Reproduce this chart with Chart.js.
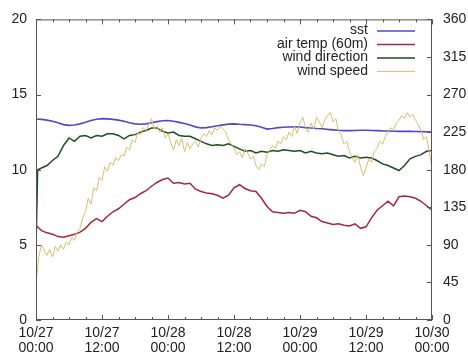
<!DOCTYPE html>
<html>
<head>
<meta charset="utf-8">
<script src="https://cdn.jsdelivr.net/npm/chart.js@4/dist/chart.umd.min.js"></script>
<style>
    body { margin: 0; background: #fff; }
    #wrap { width: 468px; height: 359px; position: relative; }
</style>
</head>
<body>
<div id="wrap"><canvas id="tsChart"></canvas></div>
<script>
// hours since 10/27 00:00
const hours = Array.from({ length: 73 }, (_, i) => i);
const halfHours = Array.from({ length: 145 }, (_, i) => i / 2);
const dirHours = [0, 0.3].concat(hours.slice(1));

const dayLabels = ['10/27', '10/27', '10/28', '10/28', '10/29', '10/29', '10/30'];
const timeLabels = ['00:00', '12:00', '00:00', '12:00', '00:00', '12:00', '00:00'];
const legendNames = ['sst', 'air temp (60m)', 'wind direction', 'wind speed'];

// sea surface temperature, hourly
const sst = [
    13.37, 13.35, 13.3, 13.22, 13.12, 13.0, 12.95, 12.97, 13.05, 13.15, 13.28, 13.36,
    13.4, 13.38, 13.35, 13.3, 13.22, 13.12, 13.05, 13.02, 13.05, 13.12, 13.2, 13.26,
    13.27, 13.22, 13.15, 13.08, 12.98, 12.85, 12.78, 12.8, 12.86, 12.92, 12.98, 13.03,
    13.05, 13.02, 13.0, 12.97, 12.92, 12.82, 12.7, 12.74, 12.8, 12.82, 12.84, 12.85,
    12.84, 12.8, 12.77, 12.74, 12.72, 12.68, 12.65, 12.62, 12.6, 12.6, 12.61, 12.62,
    12.62, 12.61, 12.6, 12.58, 12.57, 12.56, 12.55, 12.55, 12.55, 12.54, 12.53, 12.52,
    12.5
];

// air temperature at 60 m, hourly
const airTemp = [
    6.3, 5.95, 5.8, 5.7, 5.55, 5.5, 5.6, 5.7, 5.85, 6.1, 6.5, 6.75,
    6.55, 6.9, 7.2, 7.4, 7.7, 8.0, 8.15, 8.4, 8.6, 8.9, 9.15, 9.35,
    9.45, 9.1, 9.15, 9.05, 9.1, 8.7, 8.55, 8.45, 8.4, 8.3, 8.1, 8.3,
    8.8, 9.0, 8.75, 8.6, 8.55, 8.1, 7.55, 7.2, 7.15, 7.1, 7.15, 7.1,
    7.3, 7.2, 6.9, 6.8, 6.55, 6.45, 6.35, 6.4, 6.3, 6.25, 6.4, 6.1,
    6.2, 6.8, 7.3, 7.6, 7.9, 7.6, 8.2, 8.25, 8.2, 8.1, 7.9, 7.6,
    7.3
];

// wind direction in degrees (right axis)
const windDir = [
    83, 180,
    182, 185, 191, 196, 209, 218, 214, 220, 221, 218, 221,
    220, 223, 223, 221, 217, 221, 222, 225, 227, 230, 230, 226,
    224, 225, 221, 220, 220, 217, 214, 211, 209, 210, 209, 211,
    208, 205, 202, 203, 200, 202, 201, 203, 202, 204, 203, 202,
    203, 200, 202, 200, 199, 200, 198, 196, 197, 194, 196, 194,
    195, 194, 191, 187, 185, 182, 179, 185, 193, 196, 198, 202,
    203
];

// wind speed, half-hourly
const windSpeed = [
    2.4, 4.2, 5.0, 4.6, 4.3, 4.7, 4.2, 4.9, 4.6, 5.0, 4.7, 5.2,
    5.0, 5.5, 5.3, 5.9, 6.1, 6.8, 7.2, 8.1, 7.7, 8.8, 8.6, 9.5,
    9.3, 10.2, 9.9, 10.5, 10.3, 10.8, 10.6, 11.0, 10.9, 11.5, 11.3, 12.0,
    11.8, 12.5, 12.3, 12.8, 12.6, 13.0, 13.4, 12.7, 12.9, 12.5, 12.8, 12.1,
    12.4, 11.8, 11.3, 12.0, 11.6, 12.1, 11.2, 11.8, 11.4, 11.7, 11.9, 11.5,
    12.1, 12.4, 12.2, 12.6, 12.3, 12.8, 12.6, 12.9, 12.7, 12.5, 12.0, 11.7,
    11.4, 11.0, 11.2, 10.8, 11.4, 11.1, 10.7, 10.9, 10.3, 10.0, 10.4, 10.2,
    11.0, 11.3, 11.6, 11.4, 11.9, 11.7, 12.2, 12.0, 12.5, 12.2, 12.9, 12.4,
    13.1, 13.5, 12.8, 12.5, 13.1, 12.7, 13.5, 13.2, 12.8, 13.3, 13.6, 13.8,
    13.2, 13.4, 12.6, 12.3, 11.7, 11.9, 11.2, 10.8, 10.5, 11.0, 10.2, 9.6,
    10.1, 10.7, 10.5, 11.2, 11.4, 11.9, 11.7, 12.2, 12.5, 12.8, 12.6, 13.1,
    13.3, 13.6, 13.4, 13.8, 13.5, 13.7, 13.3, 13.0, 12.6, 12.0, 12.2, 11.2,
    10.1
];

const colors = ['#5048c8', '#a3283c', '#1f4f23', '#d4c070'];
const FONT = '"Liberation Sans", Arial, sans-serif';
const toPoints = (xs, ys) => ys.map((v, i) => ({ x: xs[i], y: v }));

// gnuplot style frame with inward ticks and a right aligned key
const framePlugin = {
    id: 'frame',
    afterDatasetsDraw(chart) {
        const ctx = chart.ctx;
        const a = chart.chartArea;
        const { x, y, y2 } = chart.scales;
        ctx.save();
        ctx.strokeStyle = '#555';
        ctx.lineWidth = 1;
        ctx.strokeRect(a.left + 0.5, a.top + 0.5, a.right - a.left - 1, a.bottom - a.top - 1);
        ctx.beginPath();
        x.ticks.forEach(t => {
            const px = Math.round(x.getPixelForValue(t.value)) + 0.5;
            const len = t.value % 12 === 0 ? 5 : 3;
            ctx.moveTo(px, a.bottom); ctx.lineTo(px, a.bottom - len);
            ctx.moveTo(px, a.top); ctx.lineTo(px, a.top + len);
        });
        y.ticks.forEach(t => {
            const py = Math.round(y.getPixelForValue(t.value)) + 0.5;
            ctx.moveTo(a.left, py); ctx.lineTo(a.left + 5, py);
        });
        y2.ticks.forEach(t => {
            const py = Math.round(y2.getPixelForValue(t.value)) + 0.5;
            ctx.moveTo(a.right, py); ctx.lineTo(a.right - 5, py);
        });
        ctx.stroke();

        // key
        ctx.font = '14px ' + FONT;
        ctx.fillStyle = '#222';
        ctx.textAlign = 'right';
        ctx.textBaseline = 'middle';
        legendNames.forEach((name, i) => {
            const ly = a.top + 11 + i * 13.5;
            ctx.fillText(name, a.right - 64, ly);
            ctx.strokeStyle = colors[i];
            ctx.lineWidth = i === 3 ? 1 : 1.5;
            ctx.beginPath();
            ctx.moveTo(a.right - 55, ly + 0.5);
            ctx.lineTo(a.right - 17, ly + 0.5);
            ctx.stroke();
        });
        ctx.restore();
    }
};

const ctx = document.getElementById('tsChart').getContext('2d');
new Chart(ctx, {
    type: 'line',
    data: {
        datasets: [{
            label: legendNames[0],
            data: toPoints(hours, sst),
            borderColor: colors[0],
            borderWidth: 1.6,
            yAxisID: 'y',
            order: 4
        }, {
            label: legendNames[1],
            data: toPoints(hours, airTemp),
            borderColor: colors[1],
            borderWidth: 1.5,
            yAxisID: 'y',
            order: 3
        }, {
            label: legendNames[2],
            data: toPoints(dirHours, windDir),
            borderColor: colors[2],
            borderWidth: 1.5,
            yAxisID: 'y2',
            order: 2
        }, {
            label: legendNames[3],
            data: toPoints(halfHours, windSpeed),
            borderColor: colors[3],
            borderWidth: 1,
            yAxisID: 'y',
            order: 1
        }]
    },
    options: {
        responsive: true,
        maintainAspectRatio: false,
        animation: false,
        elements: {
            point: { radius: 0 },
            line: { tension: 0, fill: false }
        },
        layout: { padding: { top: 15 } },
        plugins: {
            legend: { display: false },
            tooltip: { enabled: false }
        },
        scales: {
            x: {
                type: 'linear',
                min: 0,
                max: 72,
                afterFit: s => { s.height = 39; },
                grid: { display: false, drawTicks: false },
                border: { display: false },
                ticks: {
                    stepSize: 3,
                    autoSkip: false,
                    maxRotation: 0,
                    padding: 6,
                    color: '#222',
                    font: { family: FONT, size: 14, lineHeight: 1.05 },
                    callback: v => v % 12 === 0 ? [dayLabels[v / 12], timeLabels[v / 12]] : ''
                }
            },
            y: {
                position: 'left',
                min: 0,
                max: 20,
                afterFit: s => { s.width = 36; },
                grid: { display: false, drawTicks: false },
                border: { display: false },
                ticks: {
                    stepSize: 5,
                    padding: 9,
                    color: '#222',
                    font: { family: FONT, size: 14 }
                }
            },
            y2: {
                position: 'right',
                min: 0,
                max: 360,
                afterFit: s => { s.width = 36; },
                grid: { display: false, drawTicks: false },
                border: { display: false },
                ticks: {
                    stepSize: 45,
                    padding: 11,
                    color: '#222',
                    font: { family: FONT, size: 14 }
                }
            }
        }
    },
    plugins: [framePlugin]
});
</script>
</body>
</html>
